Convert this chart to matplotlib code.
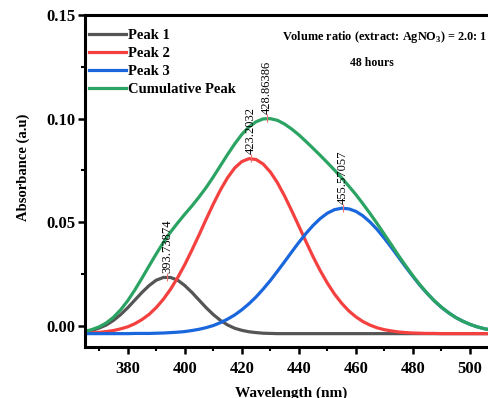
import matplotlib
matplotlib.use("Agg")
import matplotlib.pyplot as plt
import numpy as np

plt.rcParams['font.family'] = ['Liberation Serif', 'DejaVu Serif']
plt.rcParams['font.weight'] = 'bold'
plt.rcParams['mathtext.fontset'] = 'custom'
plt.rcParams['mathtext.rm'] = 'Liberation Serif:bold'
plt.rcParams['mathtext.bf'] = 'Liberation Serif:bold'

# wavelength grid (nm), 365 .. 510 every 2.5 nm
wavelength = np.arange(365, 510.1, 2.5)

# curve values
peak1 = [-0.0028, -0.0021, -0.0010, 0.0005, 0.0027, 0.0055, 0.0088, 0.0125,
         0.0162, 0.0195, 0.0221, 0.0234, 0.0234, 0.0221, 0.0195, 0.0162,
         0.0125, 0.0088, 0.0055, 0.0027, 0.0005, -0.0011, -0.0021, -0.0028,
         -0.0032, -0.0035, -0.0036, -0.0037] + [-0.0037] * 31

peak2 = [-0.0035, -0.0033, -0.0031, -0.0027, -0.0022, -0.0014, -0.0004,
         0.0011, 0.0031, 0.0056, 0.0089, 0.0129, 0.0177, 0.0233, 0.0296,
         0.0366, 0.0439, 0.0515, 0.0588, 0.0656, 0.0715, 0.0762, 0.0793,
         0.0807, 0.0803, 0.0781, 0.0743, 0.0691, 0.0627, 0.0556, 0.0482,
         0.0407, 0.0334, 0.0267, 0.0207, 0.0154, 0.0110, 0.0073, 0.0044,
         0.0021, 0.0004, -0.0009, -0.0018, -0.0024, -0.0029, -0.0032,
         -0.0034, -0.0035, -0.0036, -0.0036] + [-0.0037] * 9

peak3 = [-0.0037] * 7 + [-0.0036, -0.0036, -0.0036, -0.0035, -0.0034,
         -0.0032, -0.0030, -0.0027, -0.0022, -0.0016, -0.0008, 0.0002, 0.0016,
         0.0033, 0.0053, 0.0078, 0.0107, 0.0140, 0.0178, 0.0219, 0.0264,
         0.0310, 0.0357, 0.0403, 0.0446, 0.0485, 0.0518, 0.0544, 0.0561,
         0.0568, 0.0565, 0.0553, 0.0531, 0.0501, 0.0465, 0.0423, 0.0378,
         0.0331, 0.0284, 0.0239, 0.0196, 0.0157, 0.0121, 0.0090, 0.0064,
         0.0041, 0.0023, 0.0008, -0.0004, -0.0013, -0.0020, -0.0025]

cumulative = [-0.0026, -0.0017, -0.0004, 0.0015, 0.0042, 0.0078, 0.0122,
              0.0174, 0.0231, 0.0290, 0.0348, 0.0403, 0.0453, 0.0497, 0.0539,
              0.0579, 0.0622, 0.0668, 0.0719, 0.0773, 0.0827, 0.0878, 0.0924,
              0.0960, 0.0985, 0.0999, 0.1000, 0.0992, 0.0974, 0.0950, 0.0922,
              0.0890, 0.0857, 0.0823, 0.0788, 0.0752, 0.0715, 0.0675, 0.0634,
              0.0589, 0.0542, 0.0493, 0.0442, 0.0391, 0.0339, 0.0290, 0.0242,
              0.0198, 0.0158, 0.0122, 0.0091, 0.0064, 0.0041, 0.0023, 0.0008,
              -0.0004, -0.0013, -0.0020, -0.0025]

# labelled peak positions and heights
peak_pos = [393.73874, 423.2032, 428.86386, 455.57057]
peak_val = [0.0235, 0.0808, 0.1001, 0.0568]
peak_txt = ['393.73874', '423.2032', '428.86386', '455.57057']

fig = plt.figure(figsize=(4.89, 3.98), dpi=100)
ax = fig.add_axes([0.1738, 0.1289, 0.8262, 0.8334])

ax.plot(wavelength, peak1, color='#555555', lw=2.3, label='Peak 1')
ax.plot(wavelength, peak2, color='#f4413f', lw=2.3, label='Peak 2')
ax.plot(wavelength, peak3, color='#1a66dc', lw=2.3, label='Peak 3')
ax.plot(wavelength, cumulative, color='#2aa363', lw=2.3, label='Cumulative Peak')

for xp, yp, t in zip(peak_pos, peak_val, peak_txt):
    ax.plot([xp], [yp], marker='|', color='#f07070', ms=6, mew=0.8)
    ax.text(xp, yp + 0.002, t, rotation=90, ha='center', va='bottom',
            fontsize=9, fontweight='normal')

ax.set_xlim(365, 506.7)
ax.set_ylim(-0.01, 0.15)
ax.set_xticks([380, 400, 420, 440, 460, 480, 500])
ax.set_xticks([370, 390, 410, 430, 450, 470, 490], minor=True)
ax.set_yticks([0.00, 0.05, 0.10, 0.15])
ax.set_yticklabels(['0.00', '0.05', '0.10', '0.15'])
ax.set_yticks([0.025, 0.075, 0.125], minor=True)

for s in ['left', 'top', 'bottom']:
    ax.spines[s].set_linewidth(2.2)
ax.spines['right'].set_visible(False)
ax.tick_params(axis='both', which='major', direction='out', length=5,
               width=1.8, labelsize=12, pad=2)
ax.tick_params(axis='x', which='major', pad=5)
ax.tick_params(axis='both', which='minor', direction='out', length=3,
               width=1.5)
for lab in ax.get_xticklabels() + ax.get_yticklabels():
    lab.set_fontweight('bold')

fig.text(0.047, 0.579, 'Absorbance (a.u)', rotation=90, ha='center',
         va='center', fontsize=10.5, fontweight='bold')
fig.text(0.596, 0.030, 'Wavelength (nm)', ha='center', va='top',
         fontsize=11, fontweight='bold')

ax.legend(loc='upper left', bbox_to_anchor=(-0.015, 0.99), frameon=False,
          handlelength=2.5, handletextpad=0.15, labelspacing=0.33,
          borderaxespad=0.3, prop={'weight': 'bold', 'size': 10.5})

ax.text(0.995, 0.935, r'Volume ratio (extract: AgNO$_3$) = 2.0: 1',
        transform=ax.transAxes, ha='right', va='center', fontsize=8.8,
        fontweight='bold')
ax.text(0.71, 0.855, '48 hours', transform=ax.transAxes, ha='center',
        va='center', fontsize=8.5, fontweight='bold')

fig.savefig('out.png', dpi=100)
